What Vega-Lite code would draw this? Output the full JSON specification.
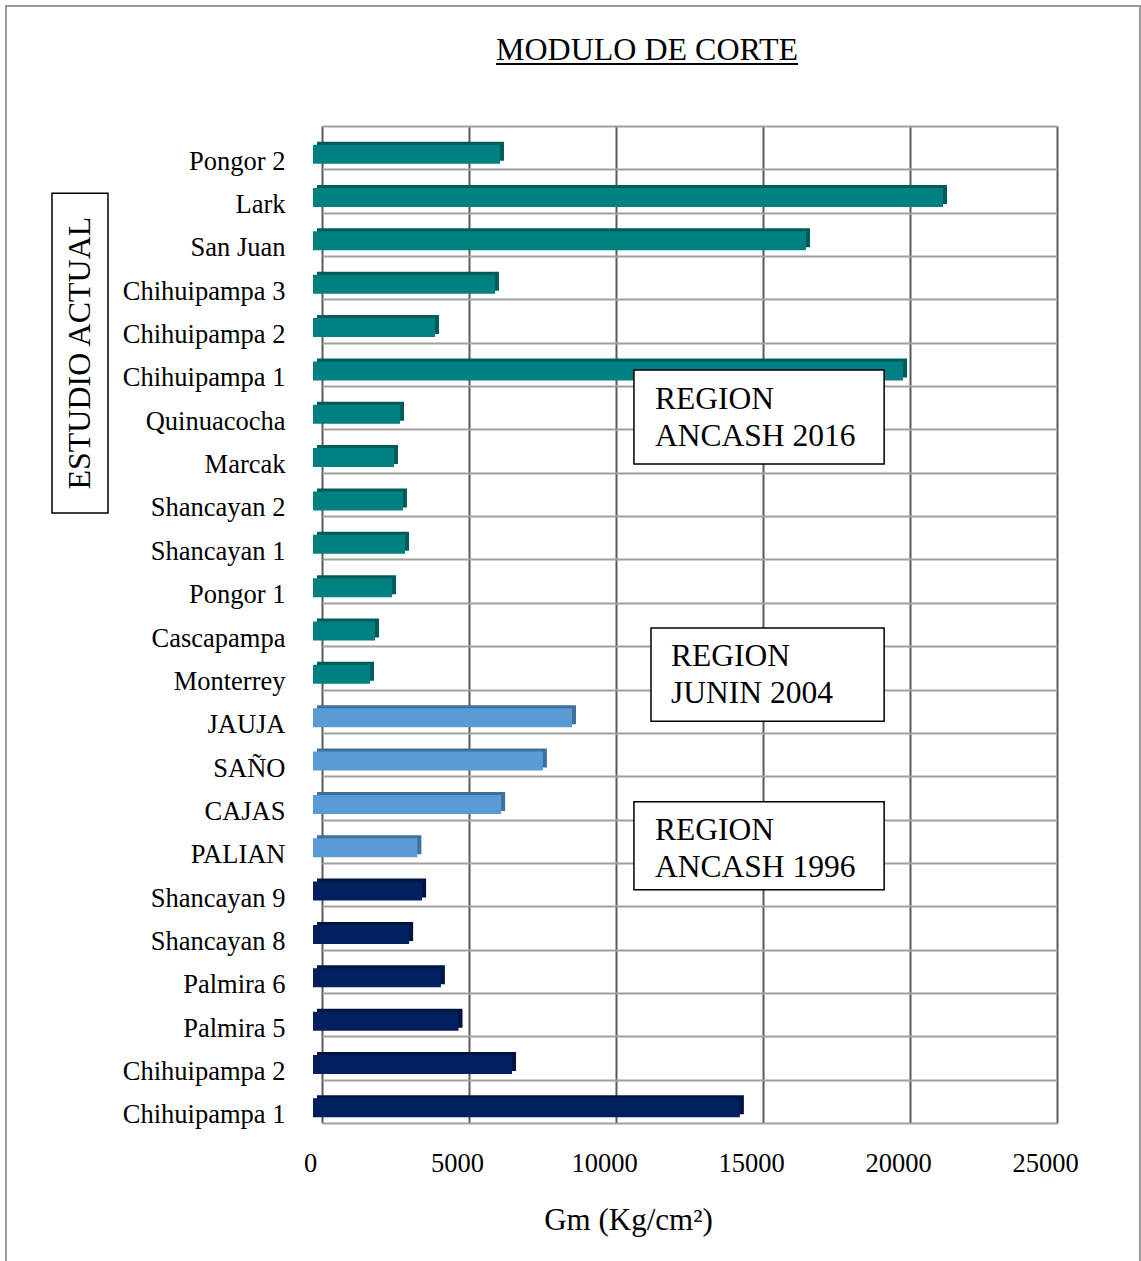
{
  "$schema": "https://vega.github.io/schema/vega-lite/v6.json",
  "width": 735,
  "height": 997,
  "autosize": {"type": "none"},
  "padding": {"left": 322, "top": 126, "right": 84, "bottom": 138},
  "background": "white",
  "config": {
    "font": "Liberation Serif",
    "view": {"stroke": null}
  },
  "datasets": {
    "bars": [
      {"key": "2016|Pongor 2", "region": "ANCASH 2016", "gm": 6360},
      {"key": "2016|Lark", "region": "ANCASH 2016", "gm": 21430},
      {"key": "2016|San Juan", "region": "ANCASH 2016", "gm": 16770},
      {"key": "2016|Chihuipampa 3", "region": "ANCASH 2016", "gm": 6190},
      {"key": "2016|Chihuipampa 2", "region": "ANCASH 2016", "gm": 4150},
      {"key": "2016|Chihuipampa 1", "region": "ANCASH 2016", "gm": 20070},
      {"key": "2016|Quinuacocha", "region": "ANCASH 2016", "gm": 2960},
      {"key": "2016|Marcak", "region": "ANCASH 2016", "gm": 2755},
      {"key": "2016|Shancayan 2", "region": "ANCASH 2016", "gm": 3060},
      {"key": "2016|Shancayan 1", "region": "ANCASH 2016", "gm": 3130},
      {"key": "2016|Pongor 1", "region": "ANCASH 2016", "gm": 2690},
      {"key": "2016|Cascapampa", "region": "ANCASH 2016", "gm": 2110},
      {"key": "2016|Monterrey", "region": "ANCASH 2016", "gm": 1940},
      {"key": "2004|JAUJA", "region": "JUNIN 2004", "gm": 8810},
      {"key": "2004|SAÑO", "region": "JUNIN 2004", "gm": 7820},
      {"key": "2004|CAJAS", "region": "JUNIN 2004", "gm": 6400},
      {"key": "2004|PALIAN", "region": "JUNIN 2004", "gm": 3550},
      {"key": "1996|Shancayan 9", "region": "ANCASH 1996", "gm": 3710},
      {"key": "1996|Shancayan 8", "region": "ANCASH 1996", "gm": 3270},
      {"key": "1996|Palmira 6", "region": "ANCASH 1996", "gm": 4350},
      {"key": "1996|Palmira 5", "region": "ANCASH 1996", "gm": 4950},
      {"key": "1996|Chihuipampa 2", "region": "ANCASH 1996", "gm": 6770},
      {"key": "1996|Chihuipampa 1", "region": "ANCASH 1996", "gm": 14520}
    ],
    "boxes": [
      {"name": "ANCASH 2016", "x1": 10610, "x2": 19120, "y1": 5.63, "y2": 7.8},
      {"name": "JUNIN 2004", "x1": 11190, "x2": 19120, "y1": 11.58, "y2": 13.73},
      {"name": "ANCASH 1996", "x1": 10610, "x2": 19120, "y1": 15.59, "y2": 17.62},
      {"name": "ESTUDIO ACTUAL", "x1": -9184, "x2": -7279, "y1": 1.55, "y2": 8.93}
    ],
    "frame": [
      {"x1": -10748, "x2": 27823, "y1": -2.77, "y2": 26.4}
    ],
    "texts": [
      {"t": "REGION", "x": 11327, "y": 6.32},
      {"t": "ANCASH 2016", "x": 11327, "y": 7.17},
      {"t": "REGION", "x": 11871, "y": 12.25},
      {"t": "JUNIN 2004", "x": 11871, "y": 13.1},
      {"t": "REGION", "x": 11327, "y": 16.26},
      {"t": "ANCASH 1996", "x": 11327, "y": 17.12}
    ],
    "vtext": [
      {"t": "ESTUDIO ACTUAL", "x": -8231, "y": 5.24}
    ],
    "titletext": [
      {"t": "MODULO DE CORTE", "x": 11054, "y": -1.53}
    ],
    "underline": [
      {"x1": 5918, "x2": 16190, "y": -1.43}
    ]
  },
  "resolve": {"scale": {"y": "independent"}},
  "layer": [
    {
      "data": {"name": "bars"},
      "encoding": {
        "y": {
          "field": "key",
          "type": "nominal",
          "sort": null,
          "scale": {"paddingInner": 0, "paddingOuter": 0},
          "axis": {
            "title": null,
            "grid": false,
            "ticks": false,
            "domain": false,
            "labelExpr": "split(datum.label, '|')[1]",
            "labelFont": "Liberation Serif",
            "labelFontSize": 26.5,
            "labelColor": "black",
            "labelPadding": 37,
            "labelOffset": 14,
            "labelAlign": "right",
            "labelBaseline": "middle"
          }
        },
        "x": {
          "field": "gm",
          "type": "quantitative",
          "scale": {"domain": [0, 25000], "nice": false, "zero": true},
          "axis": {
            "values": [0, 5000, 10000, 15000, 20000, 25000],
            "format": "d",
            "grid": true,
            "gridColor": "#5a5a5a",
            "gridWidth": 2,
            "ticks": false,
            "domain": false,
            "labelFont": "Liberation Serif",
            "labelFontSize": 26.5,
            "labelColor": "black",
            "labelOffset": -12,
            "labelPadding": 27,
            "labelFlush": false,
            "title": "Gm (Kg/cm²)",
            "titleFont": "Liberation Serif",
            "titleFontSize": 31,
            "titleFontWeight": "normal",
            "titleColor": "black",
            "titleX": 306,
            "titleY": 106,
            "titleBaseline": "alphabetic",
            "titleAlign": "center"
          }
        }
      },
      "layer": [
        {
          "mark": {"type": "bar", "size": 19, "xOffset": -5, "yOffset": 3.5},
          "encoding": {
            "fill": {
              "field": "region",
              "type": "nominal",
              "scale": {"domain": ["ANCASH 2016", "JUNIN 2004", "ANCASH 1996"], "range": ["#005b5b", "#3f6f9c", "#00153f"]},
              "legend": null
            }
          }
        },
        {
          "mark": {"type": "bar", "size": 19, "xOffset": -9, "yOffset": 6.5},
          "encoding": {
            "color": {
              "field": "region",
              "type": "nominal",
              "scale": {"domain": ["ANCASH 2016", "JUNIN 2004", "ANCASH 1996"], "range": ["#008080", "#5b9bd5", "#002060"]},
              "legend": null
            }
          }
        }
      ]
    },
    {
      "layer": [
        {
          "data": {"name": "frame"},
          "mark": {"type": "rect", "fillOpacity": 0, "stroke": "#9a9a9a", "strokeWidth": 2},
          "encoding": {
            "x": {"field": "x1", "type": "quantitative"},
            "x2": {"field": "x2"},
            "y": {
              "field": "y1",
              "type": "quantitative",
              "scale": {"domain": [0, 23], "nice": false, "zero": false, "reverse": true},
              "axis": {
                "orient": "right",
                "values": [0, 1, 2, 3, 4, 5, 6, 7, 8, 9, 10, 11, 12, 13, 14, 15, 16, 17, 18, 19, 20, 21, 22, 23],
                "grid": true,
                "gridColor": "#a0a0a0",
                "gridWidth": 2,
                "labels": false,
                "ticks": false,
                "domain": false,
                "title": null
              }
            },
            "y2": {"field": "y2"}
          }
        },
        {
          "data": {"name": "boxes"},
          "mark": {"type": "rect", "fill": "white", "stroke": "black", "strokeWidth": 1.5},
          "encoding": {
            "x": {"field": "x1", "type": "quantitative"},
            "x2": {"field": "x2"},
            "y": {"field": "y1", "type": "quantitative"},
            "y2": {"field": "y2"}
          }
        },
        {
          "data": {"name": "texts"},
          "mark": {"type": "text", "align": "left", "baseline": "middle", "font": "Liberation Serif", "fontSize": 31.5, "color": "black"},
          "encoding": {
            "x": {"field": "x", "type": "quantitative"},
            "y": {"field": "y", "type": "quantitative"},
            "text": {"field": "t"}
          }
        },
        {
          "data": {"name": "vtext"},
          "mark": {"type": "text", "align": "center", "baseline": "middle", "angle": 270, "font": "Liberation Serif", "fontSize": 32, "color": "black"},
          "encoding": {
            "x": {"field": "x", "type": "quantitative"},
            "y": {"field": "y", "type": "quantitative"},
            "text": {"field": "t"}
          }
        },
        {
          "data": {"name": "titletext"},
          "mark": {"type": "text", "align": "center", "baseline": "alphabetic", "font": "Liberation Serif", "fontSize": 32, "color": "black"},
          "encoding": {
            "x": {"field": "x", "type": "quantitative"},
            "y": {"field": "y", "type": "quantitative"},
            "text": {"field": "t"}
          }
        },
        {
          "data": {"name": "underline"},
          "mark": {"type": "rule", "color": "black", "strokeWidth": 2},
          "encoding": {
            "x": {"field": "x1", "type": "quantitative"},
            "x2": {"field": "x2"},
            "y": {"field": "y", "type": "quantitative"}
          }
        }
      ]
    }
  ]
}
